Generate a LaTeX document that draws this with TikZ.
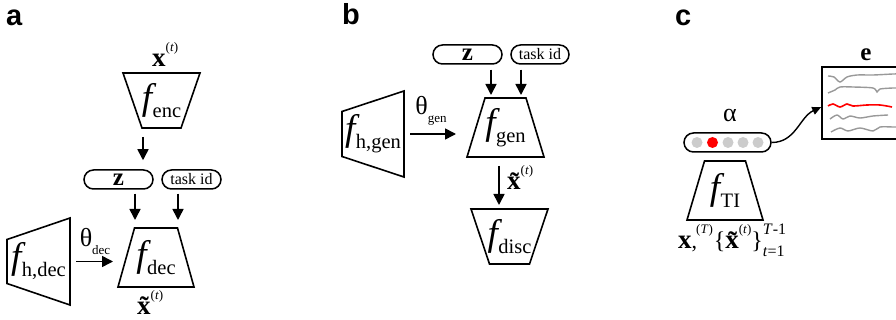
\documentclass[tikz,border=0pt]{standalone}
\usepackage{fontspec}
\setmainfont{Liberation Serif}
\setsansfont{Liberation Sans}
\usetikzlibrary{shapes.misc,arrows.meta}
\newcommand\flab[1]{{\fontsize{37}{37}\selectfont\itshape f}\kern0.5pt\raisebox{-8pt}{\fontsize{20.5}{20.5}\selectfont #1}}
\newcommand\thlab[1]{{\fontsize{26}{26}\selectfont θ}\raisebox{-8pt}{\fontsize{13}{13}\selectfont #1}}
\newcommand\bxx{{\fontsize{27}{27}\selectfont\bfseries x}}
\newcommand\btx{{\fontsize{27}{27}\selectfont\bfseries \~x}}
\newcommand\supt[1]{\raisebox{15pt}{\fontsize{13}{13}\selectfont(\textit{#1})}}
\newcommand\zz{{\fontsize{25}{25}\selectfont\bfseries z}}
\newcommand\tid{{\fontsize{16}{16}\selectfont task id}}
\newcommand\trapdown[2]{\draw[trapline] (#1.north west) -- (#1.north east) -- ([xshift=-#2]#1.south east) -- ([xshift=#2]#1.south west) -- cycle;}
\newcommand\trapup[2]{\draw[trapline] ([xshift=#2]#1.north west) -- ([xshift=-#2]#1.north east) -- (#1.south east) -- (#1.south west) -- cycle;}
\newcommand\trapright[2]{\draw[trapline] (#1.north east) -- (#1.south east) -- ([yshift=#2]#1.south west) -- ([yshift=-#2]#1.north west) -- cycle;}
\definecolor{dotgray}{HTML}{CCCCCC}
\definecolor{wavegray}{HTML}{999999}
\tikzset{
  trapbox/.style={rectangle, inner sep=0pt, outer sep=0pt},
  trapline/.style={line width=1.6pt, line join=miter},
  pill/.style={draw, line width=1.5pt, rounded rectangle, minimum height=19pt, inner sep=0pt},
  arr/.style={line width=1.6pt, -{Triangle[length=11pt,width=11pt]}},
  carr/.style={line width=1.4pt, -{Triangle[length=9pt,width=8pt]}},
  plabel/.style={font=\fontsize{29}{29}\selectfont\sffamily\bfseries, inner sep=0pt},
  dotn/.style={circle, inner sep=0pt, minimum size=11pt, fill=dotgray},
  wave/.style={line width=1.4pt, wavegray},
}
\begin{document}
\begin{tikzpicture}[x=1pt,y=-1pt]
\useasboundingbox (0,0) rectangle (896,320);
\clip (0,0) rectangle (896,320);
% ---------- panel a
\node[plabel, anchor=base west] (la) at (6,26) {a};
\node[anchor=base west, inner sep=0pt] (xa) at (152,67) {\bxx\supt{t}};
\node[trapbox, minimum width=77pt, minimum height=55pt] (enc) at (161.5,100.5) {\flab{enc}};
\trapdown{enc}{19pt}
\node[pill, minimum width=69pt] (za) at (118.5,179.5) {\zz};
\node[pill, minimum width=59pt] (ta) at (191.5,179.5) {\tid};
\node[trapbox, minimum width=76pt, minimum height=59pt] (dec) at (156,257.5) {\flab{dec}};
\trapup{dec}{16.5pt}
\node[trapbox, minimum width=63pt, minimum height=87pt] (hdec) at (38.5,261.5) {\flab{h,dec}};
\trapright{hdec}{21.5pt}
\node (tha) at (95,241) {\thlab{dec}};
\node[anchor=base west, inner sep=0pt] (xta) at (137,314) {\btx\supt{t}};
\draw[arr] ([xshift=-18.5pt,yshift=-9pt]enc.south) -- ([xshift=24.5pt,yshift=9pt]za.north);
\draw[arr] ([xshift=16.5pt,yshift=-4pt]za.south) -- ([xshift=-21pt,yshift=8pt]dec.north);
\draw[arr] ([xshift=-13.5pt,yshift=-4pt]ta.south) -- ([xshift=22pt,yshift=8pt]dec.north);
\draw[arr] ([xshift=6pt]hdec.east) -- ([xshift=43pt]hdec.east);
% ---------- panel b
\node[plabel, anchor=base west] (lb) at (342,25) {b};
\node[pill, minimum width=69pt] (zb) at (467.5,54.5) {\zz};
\node[pill, minimum width=58pt] (tb) at (540,54.5) {\tid};
\node[trapbox, minimum width=77pt, minimum height=59pt] (gen) at (505.5,127.5) {\flab{gen}};
\trapup{gen}{18pt}
\node[trapbox, minimum width=62pt, minimum height=86pt] (hgen) at (373,134) {\flab{h,gen}};
\trapright{hgen}{20.5pt}
\node (thb) at (431,111) {\thlab{gen}};
\node[trapbox, minimum width=77pt, minimum height=55pt] (disc) at (509.5,236.5) {\flab{disc}};
\trapdown{disc}{18.5pt}
\node[anchor=base west, inner sep=0pt] (xtb) at (507,190) {\btx\supt{t}};
\draw[arr] ([xshift=23.5pt,yshift=-5pt]zb.south) -- ([xshift=-14.5pt,yshift=3pt]gen.north);
\draw[arr] ([xshift=-19pt,yshift=-5pt]tb.south) -- ([xshift=15.5pt,yshift=3pt]gen.north);
\draw[arr] ([xshift=6pt]hgen.east) -- ([xshift=52pt]hgen.east);
\draw[arr] ([xshift=-6.5pt,yshift=-9pt]gen.south) -- ([xshift=-10.5pt,yshift=4pt]disc.north);
% ---------- panel c
\node[plabel, anchor=base west] (lc) at (675,26) {c};
\node (alpha) at (730,115) {\fontsize{26}{26}\selectfont α};
\node[pill, minimum width=87pt] (cp) at (727.5,142.5) {};
\node[dotn] (d1) at (697,142.5) {};
\node[dotn, fill=red] (d2) at (712.5,142.5) {};
\node[dotn] (d3) at (728,142.5) {};
\node[dotn] (d4) at (743,142.5) {};
\node[dotn] (d5) at (758,142.5) {};
\node[trapbox, minimum width=76pt, minimum height=59pt] (ti) at (725,190.5) {\flab{TI}};
\trapup{ti}{17.5pt}
\node[anchor=base west, inner sep=0pt] (clab) at (678,249) {\bxx{\fontsize{22}{22}\selectfont,}\kern-1pt\supt{T}\kern1pt{\fontsize{24}{24}\selectfont\{}\btx\supt{t}{\fontsize{24}{24}\selectfont\}}\rlap{\raisebox{14pt}{\fontsize{16}{16}\selectfont\textit{T}-1}}\raisebox{-8pt}{\fontsize{16}{16}\selectfont\textit{t}=1}};
% ---------- panel e
\node[draw, line width=1.6pt, minimum width=150pt, minimum height=72pt, inner sep=0pt] (ebox) at (897,103) {};
\node (el) at (866,55) {\fontsize{25}{25}\selectfont\bfseries e};
\draw[carr] (cp.east) to[out=0, in=205] ([yshift=-4pt]ebox.west);
\draw[wave] plot[smooth] coordinates {(828,76) (834,77) (840,82) (847,77) (857,75) (873,75) (893,74) (900,74)};
\draw[wave] plot[smooth] coordinates {(828,93) (835,90) (840,87) (853,87) (873,88) (877,92) (880,89) (893,88) (900,88)};
\draw[line width=1.6pt, red] plot[smooth] coordinates {(828,106) (833,104) (840,107) (847,104) (853,106) (867,105) (880,105) (892,107)};
\draw[wave] plot[smooth] coordinates {(830,119) (837,115) (843,119) (850,116) (860,118) (873,116) (888,115)};
\draw[wave] plot[smooth] coordinates {(831,132) (840,128) (848,131) (860,128) (873,131) (880,127) (893,127) (900,127)};
\end{tikzpicture}
\end{document}
